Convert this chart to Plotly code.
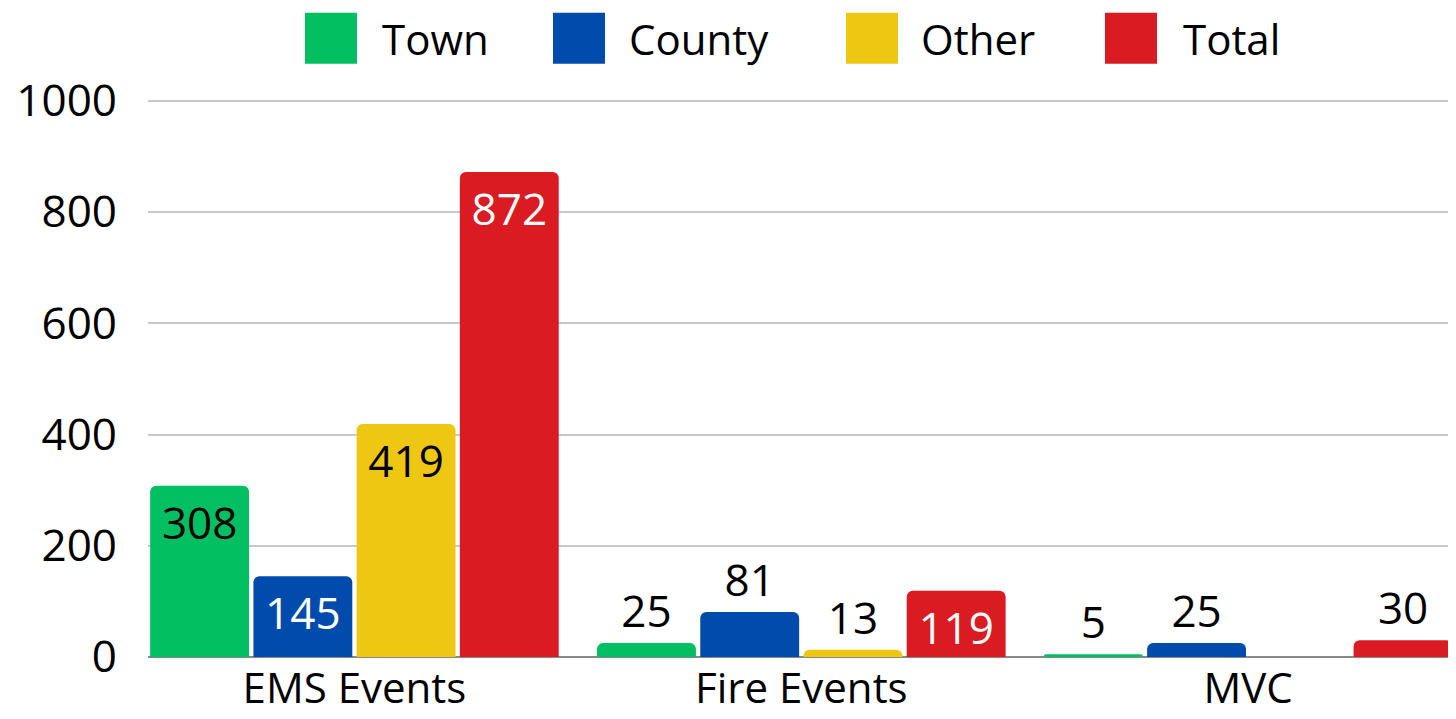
import plotly.graph_objects as go

categories = ["EMS Events", "Fire Events", "MVC"]
series_names = ["Town", "County", "Other", "Total"]
town = [308, 25, 5]
county = [145, 81, 25]
other = [419, 13, 0]
total = [872, 119, 30]
y_ticks = [0, 200, 400, 600, 800, 1000]

colors = ["#02BF62", "#014BAC", "#EEC713", "#DA1B22"]
inside_colors = ["black", "white", "black", "white"]
FONT = "Open Sans"
FS = 44

OFF = 8  # page body margin
YTOP = 1005
W, H = 1456 - OFF, 719 - OFF
PW = 1308
PH = 556 * YTOP / 1000
ML, MR, MB = 148 - OFF, 0, 62
MT = H - MB - PH

fig = go.Figure()
for name, vals, col, icol in zip(series_names, [town, county, other, total], colors, inside_colors):
    fig.add_trace(go.Bar(
        x=categories, y=vals, name=name,
        marker=dict(color=col, line=dict(width=0)),
        text=[str(v) if v else "" for v in vals],
        textposition=["inside" if v >= 100 else "outside" for v in vals],
        textangle=0,
        insidetextanchor="end",
        insidetextfont=dict(color=icol, size=FS, family=FONT),
        outsidetextfont=dict(color="black", size=FS, family=FONT),
        cliponaxis=False,
        showlegend=False,
    ))

# legend drawn as paper-positioned swatches + labels (page pixel coords)
sq_x = [305, 553, 846, 1105]
txt_x = [380, 627, 919, 1181]
def px_x(p):
    return (p - OFF - ML) / PW
def px_y(p):
    return (H - MB - (p - OFF)) / PH

shapes = []
annotations = []
for name, col, sx, tx in zip(series_names, colors, sq_x, txt_x):
    shapes.append(dict(type="rect", xref="paper", yref="paper",
                       x0=px_x(sx), x1=px_x(sx + 52), y0=px_y(64), y1=px_y(13),
                       fillcolor=col, line=dict(width=0), layer="above"))
    annotations.append(dict(xref="paper", yref="paper", x=px_x(tx), y=px_y(38.5),
                            xanchor="left", yanchor="middle", text=name, showarrow=False,
                            font=dict(size=42, family=FONT, color="black")))

fig.update_layout(
    width=W, height=H,
    margin=dict(l=ML, r=MR, t=MT, b=MB, pad=0, autoexpand=False),
    paper_bgcolor="white", plot_bgcolor="white",
    barmode="group", bargap=0.076, bargroupgap=0.042,
    barcornerradius=6,
    font=dict(family=FONT, size=FS, color="black"),
    uniformtext=dict(minsize=FS, mode="show"),
    showlegend=False,
    shapes=shapes, annotations=annotations,
    xaxis=dict(range=[-0.462, 2.465], showgrid=False, showline=False, zeroline=False,
               ticks="", ticklabelstandoff=3, automargin=False,
               tickfont=dict(size=42, family=FONT, color="black")),
    yaxis=dict(range=[0, YTOP], tickvals=y_ticks, showgrid=True, gridcolor="#c8c8c8",
               gridwidth=1.5, zeroline=True, zerolinecolor="#888888", zerolinewidth=1.5,
               showline=False, ticks="", ticklabelstandoff=30, automargin=False,
               tickfont=dict(size=FS, family=FONT, color="black")),
)

fig.write_html("out.html")
